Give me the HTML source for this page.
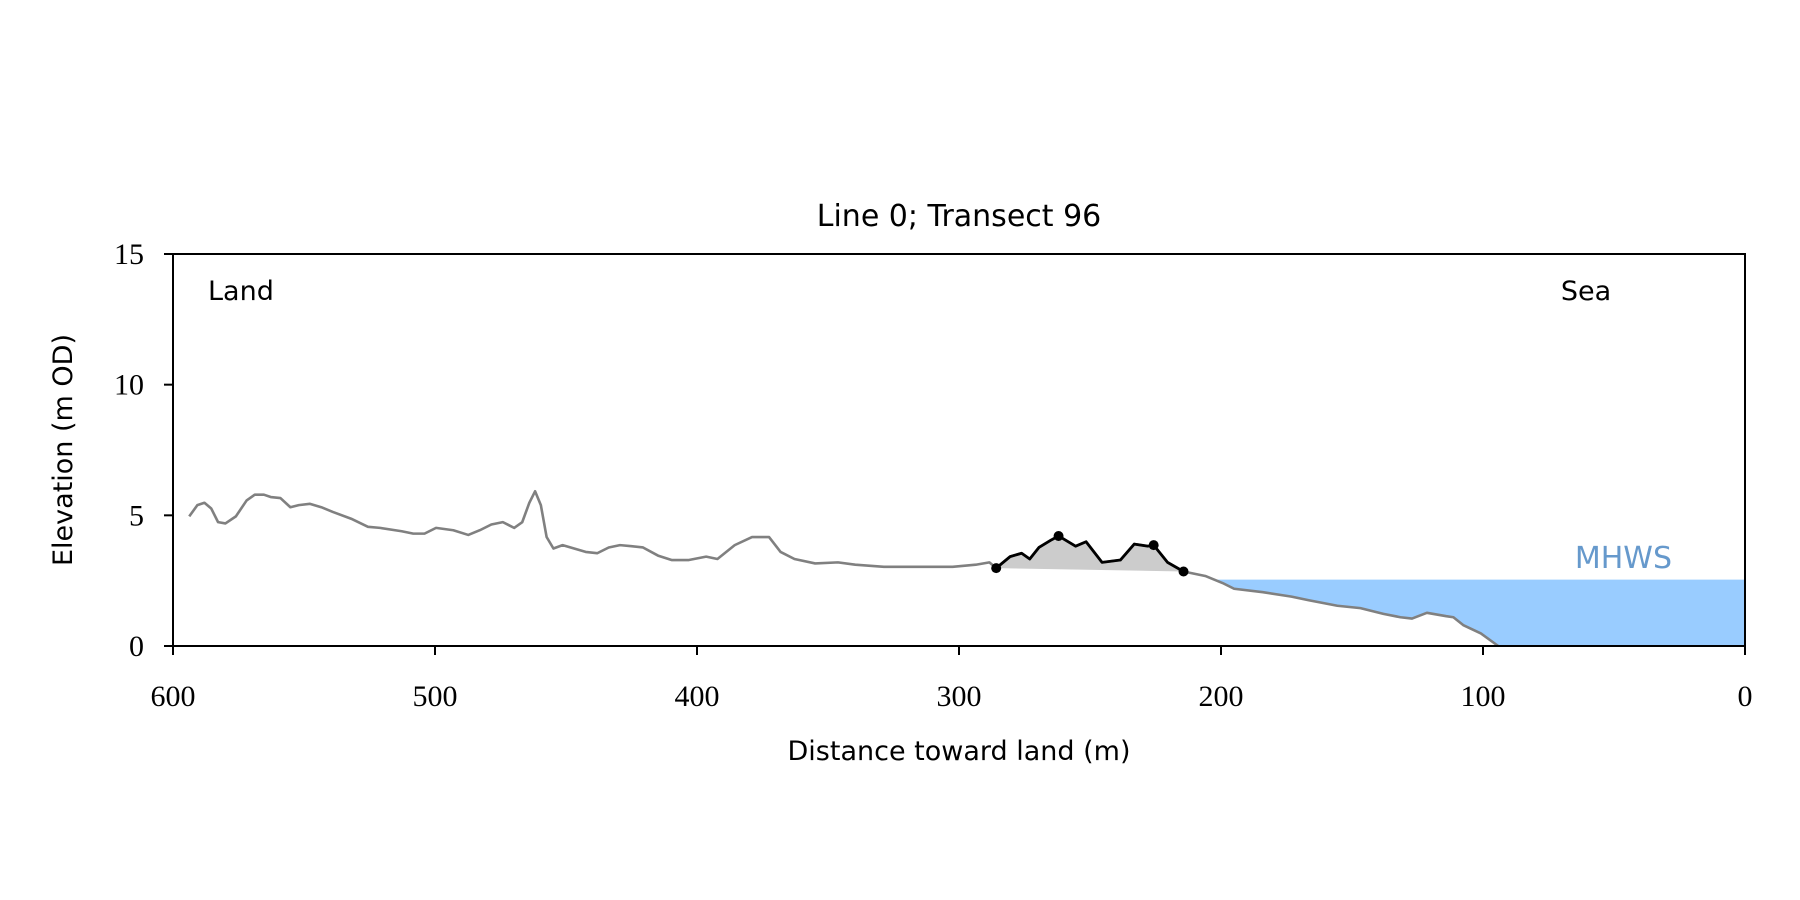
<!DOCTYPE html>
<html><head><meta charset="utf-8"><style>
html,body{margin:0;padding:0;background:#fff;}
svg{display:block;}
.s{font-family:"DejaVu Sans","Liberation Sans",sans-serif;}
.t{font-family:"Liberation Serif","DejaVu Serif",serif;font-size:30px;}
</style></head><body>
<svg id="chart" width="1800" height="900" viewBox="0 0 1800 900" xmlns="http://www.w3.org/2000/svg">
<g id="plot"></g>
<text class="s" x="959" y="226" font-size="30" text-anchor="middle">Line 0; Transect 96</text>
<text class="s" x="208" y="300" font-size="27">Land</text>
<text class="s" x="1586" y="300" font-size="27" text-anchor="middle">Sea</text>
<text class="s" x="959" y="760" font-size="27" text-anchor="middle">Distance toward land (m)</text>
<text class="s" x="0" y="0" font-size="27" text-anchor="middle" transform="translate(72,450) rotate(-90)">Elevation (m OD)</text>
</svg>
<script>
const profileDist=[593.8,590.7,588,585.4,582.8,580,576,571.9,568.8,565.3,562.7,559,555.2,552,547.7,543.4,539,532,525.6,521,512.7,508.3,504,499.6,493,487.3,482.9,478.5,474.1,469.8,466.7,464,461.8,459.6,457.4,454.8,451.3,446.9,442.5,438.1,433.7,429.4,425,420.6,414.9,409.7,403.1,396.5,392.2,385.6,379,372.5,368.1,362.8,354.9,346.2,339.6,328.7,315.5,302.4,293.6,288.4,285.8,280.5,276.1,273,269.5,265.1,262,255.5,251.5,245.4,238.4,233.1,227.9,225.7,220.4,214.3,206,199.4,195,184,173.1,166.5,155.6,146.8,138,131.5,127.1,121.4,114,111.3,107.4,100.8,94.2];
const profileElev=[4.96,5.39,5.48,5.26,4.74,4.69,4.96,5.57,5.79,5.79,5.7,5.66,5.31,5.39,5.44,5.31,5.13,4.87,4.56,4.52,4.39,4.3,4.3,4.52,4.43,4.25,4.43,4.65,4.74,4.52,4.74,5.48,5.92,5.39,4.17,3.73,3.86,3.73,3.6,3.55,3.77,3.86,3.82,3.77,3.46,3.29,3.29,3.42,3.33,3.86,4.17,4.17,3.6,3.33,3.16,3.2,3.11,3.03,3.03,3.03,3.11,3.2,2.98,3.42,3.55,3.33,3.77,4.04,4.21,3.82,3.99,3.2,3.29,3.9,3.82,3.86,3.2,2.85,2.68,2.41,2.19,2.06,1.89,1.75,1.54,1.45,1.23,1.1,1.05,1.27,1.14,1.1,0.79,0.48,0];
const duneStart=285.8, duneEnd=214.3;
const duneMarkers=[285.8,262,225.7,214.3];
const mhws=2.54;
const xTicks=[600,500,400,300,200,100,0];
const yTicks=[0,5,10,15];
const X=d=>173+(600-d)*(1572/600);
const Y=e=>646-e*(392/15);
const NS='http://www.w3.org/2000/svg';
const g=document.getElementById('plot');
function mk(tag,attrs){const el=document.createElementNS(NS,tag);for(const k in attrs)el.setAttribute(k,attrs[k]);g.appendChild(el);return el;}
function elevAt(d){for(let i=0;i<profileDist.length-1;i++){const a=profileDist[i],b=profileDist[i+1];if(d<=a&&d>=b){const t=(a-d)/(a-b);return profileElev[i]+t*(profileElev[i+1]-profileElev[i]);}}return 0;}
// sea fill
let crossD=200;
for(let i=0;i<profileDist.length-1;i++){if(profileElev[i]>=mhws&&profileElev[i+1]<mhws){const t=(profileElev[i]-mhws)/(profileElev[i]-profileElev[i+1]);crossD=profileDist[i]+t*(profileDist[i+1]-profileDist[i]);}}
let sp=[[X(crossD),Y(mhws)],[X(0),Y(mhws)],[X(0),Y(0)]];
const lowPts=[];
for(let i=0;i<profileDist.length;i++){if(profileDist[i]<crossD)lowPts.push([X(profileDist[i]),Y(Math.max(0,profileElev[i]))]);}
lowPts.reverse().forEach(p=>sp.push(p));
const sea=mk('polygon',{points:sp.map(p=>p.join(',')).join(' '),fill:'#99ccff'});


// dune fill
const dp=[];
for(let i=0;i<profileDist.length;i++){if(profileDist[i]<=duneStart&&profileDist[i]>=duneEnd)dp.push([X(profileDist[i]),Y(profileElev[i])]);}
const e1=elevAt(duneStart),e2=elevAt(duneEnd);
dp.push([X(duneEnd),Y(e2)],[X(duneStart),Y(e1)]);
const duneFill=mk('polygon',{points:dp.map(p=>p.join(',')).join(' '),fill:'#cccccc'});


// profile
const prof=mk('polyline',{points:profileDist.map((d,i)=>X(d)+','+Y(profileElev[i])).join(' '),fill:'none',stroke:'#808080','stroke-width':2.6,'stroke-linejoin':'round'});


const dune=mk('polyline',{points:dp.slice(0,-2).map(p=>p.join(',')).join(' '),fill:'none',stroke:'#000','stroke-width':2.8,'stroke-linejoin':'round'});


duneMarkers.forEach(d=>{const c=mk('circle',{cx:X(d),cy:Y(elevAt(d)),r:5,fill:'#000'});

});
const mt=mk('text',{x:1672,y:568,'text-anchor':'end',fill:'#6699cc','font-size':30,'class':'s'});mt.textContent='MHWS';


// axes frame
const fr=mk('rect',{x:173,y:254,width:1572,height:392,fill:'none',stroke:'#000','stroke-width':2});


xTicks.forEach(v=>{const l=mk('line',{x1:X(v),x2:X(v),y1:646,y2:655,stroke:'#000','stroke-width':2});


const t=mk('text',{x:X(v),y:706,'text-anchor':'middle','class':'t'});t.textContent=v;

});
yTicks.forEach(v=>{const l=mk('line',{x1:164,x2:173,y1:Y(v),y2:Y(v),stroke:'#000','stroke-width':2});


const t=mk('text',{x:144,y:Y(v)+10,'text-anchor':'end','class':'t'});t.textContent=v;

});
</script>
</body></html>
